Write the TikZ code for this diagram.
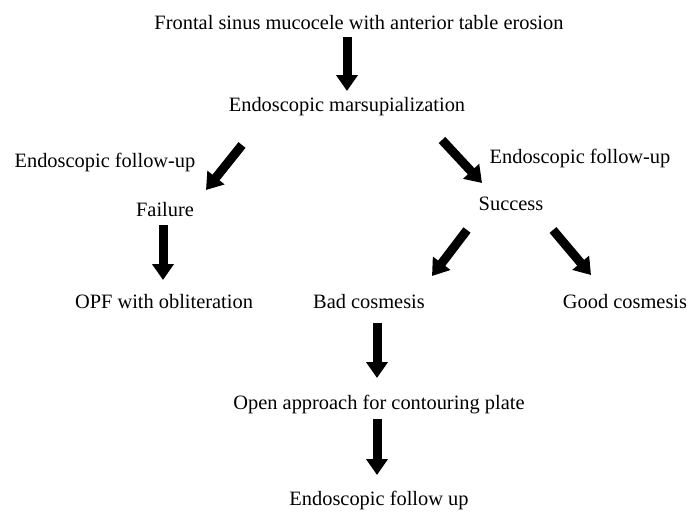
\documentclass[tikz,border=0pt]{standalone}
\usepackage{fontspec}
\setmainfont{Liberation Serif}
\usetikzlibrary{arrows.meta}
\tikzset{
  lbl/.style={inner sep=0pt, font=\fontsize{20.4}{24}\selectfont},
  big/.style={line width=9pt, -{Triangle[width=21pt,length=16pt]}}
}
\begin{document}
\begin{tikzpicture}[x=1pt,y=-1pt]
\useasboundingbox[fill=white] (0,0) rectangle (697,514);
\node[lbl] (title) at (359,23) {Frontal sinus mucocele with anterior table erosion};
\node[lbl] (marsup) at (347,107) {Endoscopic marsupialization};
\node[lbl] (efuL) at (105,162) {Endoscopic follow-up};
\node[lbl] (efuR) at (580,158) {Endoscopic follow-up};
\node[lbl] (fail) at (165,210) {Failure};
\node[lbl] (succ) at (511,204) {Success};
\node[lbl] (opf) at (164,302) {OPF with obliteration};
\node[lbl] (bad) at (369,302) {Bad cosmesis};
\node[lbl] (good) at (625,302) {Good cosmesis};
\node[lbl] (open) at (379,405) {Open approach for contouring plate};
\node[lbl] (efu) at (379,500) {Endoscopic follow up};
\draw[big] ([shift={(-12,14)}]title.center) -- ([shift={(0,-16)}]marsup.center);
\draw[big] ([shift={(-105,38)}]marsup.center) -- ([shift={(41,-20)}]fail.center);
\draw[big] ([shift={(95,33)}]marsup.center) -- ([shift={(-29,-21)}]succ.center);
\draw[big] ([shift={(-2,15)}]fail.center) -- ([shift={(-1,-22)}]opf.center);
\draw[big] ([shift={(-44,26)}]succ.center) -- ([shift={(63,-26)}]bad.center);
\draw[big] ([shift={(42,26)}]succ.center) -- ([shift={(-34,-27)}]good.center);
\draw[big] ([shift={(8,21)}]bad.center) -- ([shift={(-2,-27)}]open.center);
\draw[big] ([shift={(-2,14)}]open.center) -- ([shift={(-2,-25)}]efu.center);
\end{tikzpicture}
\end{document}
